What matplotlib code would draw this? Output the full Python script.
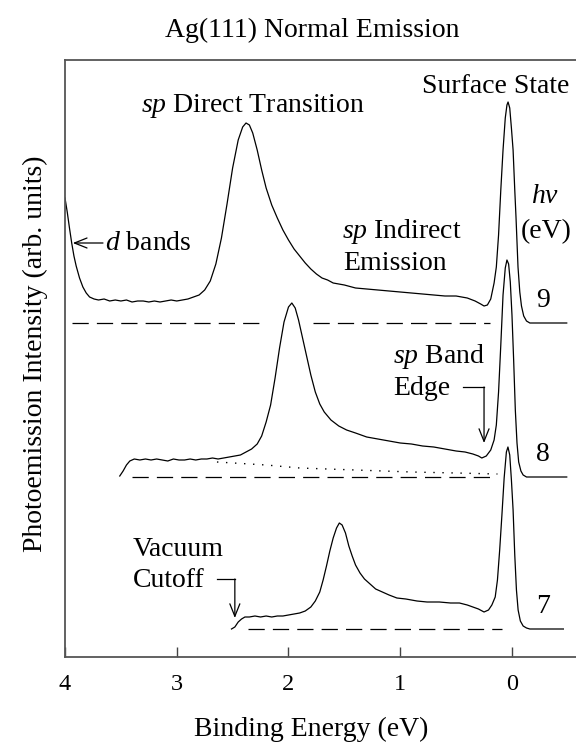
import matplotlib
matplotlib.use('Agg')
import numpy as np
import matplotlib.pyplot as plt

plt.rcParams['font.family'] = 'Liberation Serif'
plt.rcParams['mathtext.fontset'] = 'custom'
plt.rcParams['mathtext.rm'] = 'Liberation Serif'
plt.rcParams['mathtext.it'] = 'Liberation Serif:italic'

# photon energies of the three spectra and their vertical offsets
photon_energy = ['7', '8', '9']
offsets = [0.28, 1.80, 3.34]

# hv = 9 eV spectrum (binding energy in eV, intensity above its baseline)
be_9 = [4.00, 3.98, 3.96, 3.94, 3.92, 3.90, 3.87, 3.84, 3.81, 3.78, 3.74, 3.70, 3.65, 3.60,
        3.55, 3.50, 3.45, 3.40, 3.35, 3.30, 3.25, 3.20, 3.15, 3.10, 3.05, 3.00, 2.95, 2.90,
        2.85, 2.80, 2.75, 2.70, 2.65, 2.60, 2.55, 2.50, 2.45, 2.41, 2.38, 2.35, 2.32, 2.28,
        2.24, 2.20, 2.15, 2.10, 2.05, 2.00, 1.95, 1.90, 1.85, 1.80, 1.75, 1.70, 1.65, 1.60,
        1.50, 1.40, 1.30, 1.20, 1.10, 1.00, 0.90, 0.80, 0.70, 0.60, 0.50, 0.40, 0.33, 0.28,
        0.25, 0.22, 0.19, 0.16, 0.14, 0.12, 0.10, 0.08, 0.06, 0.045, 0.035, 0.02, 0.005,
        -0.01, -0.025, -0.036, -0.054, -0.07, -0.085, -0.105, -0.13, -0.16, -0.25, -0.35, -0.49]
int_9 = [1.25, 1.11, 0.95, 0.80, 0.67, 0.57, 0.45, 0.36, 0.30, 0.26, 0.24, 0.23, 0.24, 0.22,
         0.23, 0.22, 0.23, 0.21, 0.22, 0.22, 0.21, 0.22, 0.21, 0.22, 0.23, 0.22, 0.23, 0.24,
         0.26, 0.28, 0.33, 0.42, 0.59, 0.85, 1.19, 1.55, 1.83, 1.96, 2.00, 1.98, 1.90, 1.73,
         1.53, 1.35, 1.18, 1.05, 0.93, 0.83, 0.74, 0.67, 0.60, 0.54, 0.49, 0.45, 0.43, 0.40,
         0.38, 0.35, 0.34, 0.33, 0.32, 0.31, 0.30, 0.29, 0.28, 0.27, 0.27, 0.25, 0.22, 0.19,
         0.17, 0.18, 0.24, 0.40, 0.56, 0.88, 1.33, 1.73, 2.05, 2.18, 2.21, 2.15, 1.95,
         1.73, 1.33, 1.06, 0.56, 0.31, 0.17, 0.07, 0.02, 0.0, 0.0, 0.0, 0.0]

# hv = 8 eV spectrum
be_8 = [3.51, 3.48, 3.45, 3.42, 3.38, 3.33, 3.28, 3.23, 3.18, 3.13, 3.08, 3.03, 2.98, 2.93,
        2.88, 2.83, 2.78, 2.73, 2.68, 2.63, 2.58, 2.53, 2.48, 2.43, 2.38, 2.33, 2.28, 2.24,
        2.20, 2.16, 2.12, 2.08, 2.04, 2.00, 1.97, 1.94, 1.91, 1.88, 1.84, 1.80, 1.76, 1.72,
        1.68, 1.62, 1.55, 1.48, 1.40, 1.30, 1.20, 1.10, 1.00, 0.90, 0.80, 0.70, 0.60, 0.50,
        0.42, 0.35, 0.30, 0.27, 0.23, 0.19, 0.16, 0.14, 0.12, 0.10, 0.08, 0.06, 0.045, 0.03,
        0.015, 0.0, -0.015, -0.03, -0.045, -0.06, -0.08, -0.10, -0.13, -0.49]
int_8 = [0.01, 0.06, 0.12, 0.16, 0.18, 0.17, 0.18, 0.17, 0.18, 0.17, 0.16, 0.18, 0.17, 0.17,
         0.18, 0.17, 0.18, 0.18, 0.19, 0.18, 0.19, 0.20, 0.21, 0.22, 0.25, 0.28, 0.33, 0.41,
         0.55, 0.72, 0.99, 1.29, 1.55, 1.70, 1.74, 1.69, 1.57, 1.42, 1.22, 1.02, 0.85, 0.73,
         0.65, 0.57, 0.51, 0.47, 0.44, 0.40, 0.38, 0.36, 0.34, 0.33, 0.31, 0.30, 0.28, 0.26,
         0.25, 0.23, 0.21, 0.19, 0.21, 0.27, 0.37, 0.52, 0.85, 1.32, 1.82, 2.09, 2.17, 2.13,
         1.95, 1.62, 1.17, 0.67, 0.34, 0.15, 0.06, 0.02, 0.0, 0.0]

# smooth background under the hv = 8 eV spectrum
bg_be_8 = [2.64, 2.20, 1.90, 1.40, 0.90, 0.50, 0.13]
bg_int_8 = [0.15, 0.12, 0.09, 0.07, 0.05, 0.04, 0.03]

# hv = 7 eV spectrum
be_7 = [2.51, 2.48, 2.45, 2.42, 2.39, 2.35, 2.30, 2.25, 2.20, 2.15, 2.10, 2.05, 2.00, 1.95,
        1.90, 1.85, 1.80, 1.76, 1.72, 1.69, 1.66, 1.63, 1.60, 1.57, 1.545, 1.52, 1.49, 1.46,
        1.43, 1.40, 1.36, 1.32, 1.27, 1.22, 1.16, 1.10, 1.03, 0.95, 0.85, 0.76, 0.65, 0.55,
        0.47, 0.40, 0.35, 0.30, 0.25, 0.21, 0.18, 0.15, 0.13, 0.11, 0.09, 0.07, 0.05, 0.036,
        0.02, 0.005, -0.01, -0.025, -0.04, -0.055, -0.075, -0.10, -0.13, -0.16, -0.46]
int_7 = [0.0, 0.02, 0.07, 0.10, 0.12, 0.12, 0.13, 0.12, 0.13, 0.12, 0.13, 0.13, 0.14, 0.15,
         0.16, 0.18, 0.22, 0.28, 0.37, 0.49, 0.63, 0.78, 0.91, 1.01, 1.06, 1.04, 0.96, 0.83,
         0.73, 0.64, 0.56, 0.50, 0.45, 0.40, 0.37, 0.34, 0.31, 0.30, 0.28, 0.27, 0.27, 0.26,
         0.26, 0.24, 0.22, 0.20, 0.17, 0.19, 0.24, 0.32, 0.49, 0.79, 1.14, 1.51, 1.77, 1.82,
         1.74, 1.49, 1.19, 0.74, 0.39, 0.19, 0.08, 0.03, 0.01, 0.0, 0.0]

# extent of the dashed zero lines (the top one is broken where the 8 eV peak crosses)
zero_9 = [(3.94, 2.20), (1.78, 0.20)]
zero_8 = [(3.40, 0.20)]
zero_7 = [(2.36, 0.09)]

xticks = [4, 3, 2, 1, 0]

fig = plt.figure(figsize=(5.76, 7.42), dpi=100)
ax = fig.add_axes([65/576, 85/742, 511/576, 597/742])

curve = dict(color='black', lw=0.9)
ax.plot(be_9, np.array(int_9) + offsets[2], **curve)
ax.plot(be_8, np.array(int_8) + offsets[1], **curve)
ax.plot(be_7, np.array(int_7) + offsets[0], **curve)
ax.plot(bg_be_8, np.array(bg_int_8) + offsets[1], color='black', lw=1.0, linestyle=(0, (1, 5.5)))

dash = dict(color='black', lw=0.9, linestyle=(0, (13, 6.5)))
for zeros, off in [(zero_9, offsets[2]), (zero_8, offsets[1]), (zero_7, offsets[0])]:
    for a, b in zeros:
        ax.plot([a, b], [off, off], **dash)

ax.set_xlim(4, -0.573)
ax.set_ylim(0, 5.97)
ax.set_xticks(xticks)
ax.set_xticklabels([str(t) for t in xticks])
ax.set_yticks([])
ax.tick_params(axis='x', direction='in', length=7.5, width=1.0, pad=12, labelsize=17.5, color='#444444')
for side in ['left', 'top', 'bottom']:
    ax.spines[side].set_color('#555555')
    ax.spines[side].set_linewidth(1.3)
ax.spines['right'].set_visible(False)

fs = 20
# labels on the spectra
ax.text(2.32, 5.45, r'$sp$ Direct Transition', ha='center', va='baseline', fontsize=fs)
ax.text(0.148, 5.64, 'Surface State', ha='center', va='baseline', fontsize=fs)
ax.text(-0.30, 4.54, r'$h\nu$', ha='center', va='baseline', fontsize=fs)
ax.text(-0.305, 4.19, '(eV)', ha='center', va='baseline', fontsize=fs)
ax.text(1.52, 4.19, r'$sp$ Indirect', ha='left', va='baseline', fontsize=fs)
ax.text(1.51, 3.87, 'Emission', ha='left', va='baseline', fontsize=fs)
ax.text(3.64, 4.07, r'$d$ bands', ha='left', va='baseline', fontsize=fs)
ax.text(1.065, 2.94, r'$sp$ Band', ha='left', va='baseline', fontsize=fs)
ax.text(1.065, 2.62, 'Edge', ha='left', va='baseline', fontsize=fs)
ax.text(3.39, 1.01, 'Vacuum', ha='left', va='baseline', fontsize=fs)
ax.text(3.39, 0.70, 'Cutoff', ha='left', va='baseline', fontsize=fs)
for lab, off in zip(photon_energy, offsets):
    ax.text(-0.28, off + 0.16, lab, ha='center', va='baseline', fontsize=fs)

arrow = dict(arrowstyle='->,head_length=0.45,head_width=0.18', lw=0.9, color='black',
             shrinkA=0, shrinkB=0, mutation_scale=20)
ax.annotate('', xy=(3.93, 4.14), xytext=(3.66, 4.14), arrowprops=arrow)
# bent arrows: short horizontal leg then down onto the feature
ax.plot([0.44, 0.25], [2.70, 2.70], color='black', lw=0.9)
ax.annotate('', xy=(0.25, 2.14), xytext=(0.25, 2.70), arrowprops=arrow)
ax.plot([2.64, 2.48], [0.78, 0.78], color='black', lw=0.9)
ax.annotate('', xy=(2.48, 0.39), xytext=(2.48, 0.78), arrowprops=arrow)

fig.text(312/576, (742-37)/742, 'Ag(111) Normal Emission', ha='center', va='baseline', fontsize=fs)
fig.text(35/576, (742-354)/742, 'Photoemission Intensity (arb. units)', ha='center', va='center',
         rotation=90, fontsize=fs)
fig.text(311/576, 6/742, 'Binding Energy (eV)', ha='center', va='baseline', fontsize=fs)

fig.savefig('out.png', dpi=100)
